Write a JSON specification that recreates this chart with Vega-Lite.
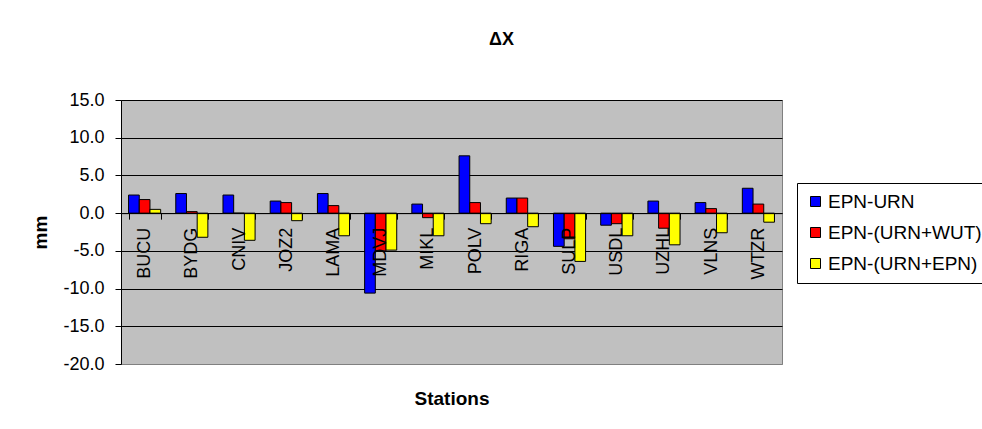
{
  "$schema": "https://vega.github.io/schema/vega-lite/v6.json",
  "width": 661,
  "height": 264,
  "autosize": {"type": "none"},
  "padding": {"left": 121, "top": 100, "right": 200, "bottom": 65},
  "background": "white",
  "title": {
    "text": "ΔX",
    "font": "Liberation Sans",
    "fontSize": 18,
    "fontWeight": "bold",
    "color": "black",
    "anchor": "middle",
    "baseline": "alphabetic",
    "offset": 28,
    "dx": 50
  },
  "data": {
    "values": [
      {"station": "BUCU", "series": "EPN-URN", "value": 2.4},
      {"station": "BUCU", "series": "EPN-(URN+WUT)", "value": 1.8},
      {"station": "BUCU", "series": "EPN-(URN+EPN)", "value": 0.5},
      {"station": "BYDG", "series": "EPN-URN", "value": 2.6},
      {"station": "BYDG", "series": "EPN-(URN+WUT)", "value": 0.2},
      {"station": "BYDG", "series": "EPN-(URN+EPN)", "value": -3.2},
      {"station": "CNIV", "series": "EPN-URN", "value": 2.4},
      {"station": "CNIV", "series": "EPN-(URN+WUT)", "value": 0.0},
      {"station": "CNIV", "series": "EPN-(URN+EPN)", "value": -3.6},
      {"station": "JOZ2", "series": "EPN-URN", "value": 1.6},
      {"station": "JOZ2", "series": "EPN-(URN+WUT)", "value": 1.4},
      {"station": "JOZ2", "series": "EPN-(URN+EPN)", "value": -1.0},
      {"station": "LAMA", "series": "EPN-URN", "value": 2.6},
      {"station": "LAMA", "series": "EPN-(URN+WUT)", "value": 1.0},
      {"station": "LAMA", "series": "EPN-(URN+EPN)", "value": -3.0},
      {"station": "MDVJ", "series": "EPN-URN", "value": -10.6},
      {"station": "MDVJ", "series": "EPN-(URN+WUT)", "value": -5.0},
      {"station": "MDVJ", "series": "EPN-(URN+EPN)", "value": -4.9},
      {"station": "MIKL", "series": "EPN-URN", "value": 1.2},
      {"station": "MIKL", "series": "EPN-(URN+WUT)", "value": -0.6},
      {"station": "MIKL", "series": "EPN-(URN+EPN)", "value": -3.0},
      {"station": "POLV", "series": "EPN-URN", "value": 7.6},
      {"station": "POLV", "series": "EPN-(URN+WUT)", "value": 1.4},
      {"station": "POLV", "series": "EPN-(URN+EPN)", "value": -1.4},
      {"station": "RIGA", "series": "EPN-URN", "value": 2.0},
      {"station": "RIGA", "series": "EPN-(URN+WUT)", "value": 2.0},
      {"station": "RIGA", "series": "EPN-(URN+EPN)", "value": -1.8},
      {"station": "SULP", "series": "EPN-URN", "value": -4.4},
      {"station": "SULP", "series": "EPN-(URN+WUT)", "value": -3.4},
      {"station": "SULP", "series": "EPN-(URN+EPN)", "value": -6.4},
      {"station": "USDL", "series": "EPN-URN", "value": -1.6},
      {"station": "USDL", "series": "EPN-(URN+WUT)", "value": -1.4},
      {"station": "USDL", "series": "EPN-(URN+EPN)", "value": -3.0},
      {"station": "UZHL", "series": "EPN-URN", "value": 1.6},
      {"station": "UZHL", "series": "EPN-(URN+WUT)", "value": -2.0},
      {"station": "UZHL", "series": "EPN-(URN+EPN)", "value": -4.2},
      {"station": "VLNS", "series": "EPN-URN", "value": 1.4},
      {"station": "VLNS", "series": "EPN-(URN+WUT)", "value": 0.6},
      {"station": "VLNS", "series": "EPN-(URN+EPN)", "value": -2.6},
      {"station": "WTZR", "series": "EPN-URN", "value": 3.3},
      {"station": "WTZR", "series": "EPN-(URN+WUT)", "value": 1.2},
      {"station": "WTZR", "series": "EPN-(URN+EPN)", "value": -1.2}
    ]
  },
  "mark": {"type": "bar", "stroke": "black", "strokeWidth": 1},
  "encoding": {
    "x": {
      "field": "station",
      "type": "nominal",
      "sort": null,
      "scale": {"paddingInner": 0.32, "paddingOuter": 0.16},
      "axis": {
        "title": "Stations",
        "titleFont": "Liberation Sans",
        "titleFontSize": 19,
        "titleFontWeight": "bold",
        "titleColor": "black",
        "titleBaseline": "middle",
        "titleY": 185,
        "offset": -150.86,
        "zindex": 1,
        "domainColor": "black",
        "domainWidth": 1,
        "tickColor": "black",
        "tickSize": 6,
        "tickBand": "extent",
        "labelAngle": -90,
        "labelAlign": "right",
        "labelBaseline": "middle",
        "labelPadding": 8,
        "labelFont": "Liberation Sans",
        "labelFontSize": 18,
        "labelColor": "black",
        "grid": false
      }
    },
    "xOffset": {
      "field": "series",
      "type": "nominal",
      "sort": ["EPN-URN", "EPN-(URN+WUT)", "EPN-(URN+EPN)"],
      "scale": {"paddingInner": 0, "paddingOuter": 0}
    },
    "y": {
      "field": "value",
      "type": "quantitative",
      "scale": {"domain": [-20, 15], "nice": false, "zero": false},
      "axis": {
        "title": "mm",
        "titleFont": "Liberation Sans",
        "titleFontSize": 19,
        "titleFontWeight": "bold",
        "titleColor": "black",
        "titleBaseline": "middle",
        "titleX": -81,
        "values": [-20, -15, -10, -5, 0, 5, 10, 15],
        "format": ".1f",
        "labelExpr": "replace(datum.label, '−', '-')",
        "domainColor": "black",
        "tickColor": "black",
        "tickSize": 6,
        "labelPadding": 11,
        "labelFont": "Liberation Sans",
        "labelFontSize": 18,
        "labelColor": "black",
        "grid": true,
        "gridColor": {"condition": {"test": "datum.value == -20", "value": "#808080"}, "value": "black"},
        "gridOpacity": 1,
        "gridWidth": 1
      }
    },
    "color": {
      "field": "series",
      "type": "nominal",
      "sort": ["EPN-URN", "EPN-(URN+WUT)", "EPN-(URN+EPN)"],
      "scale": {
        "domain": ["EPN-URN", "EPN-(URN+WUT)", "EPN-(URN+EPN)"],
        "range": ["#0000FF", "#FF0000", "#FFFF00"]
      },
      "legend": {
        "title": null,
        "orient": "none",
        "legendX": 676,
        "legendY": 83,
        "padding": 9,
        "strokeColor": "black",
        "fillColor": "white",
        "symbolType": "square",
        "symbolSize": 100,
        "symbolStrokeColor": "black",
        "symbolStrokeWidth": 1,
        "symbolOpacity": 1,
        "labelFont": "Liberation Sans",
        "labelFontSize": 19,
        "labelColor": "black",
        "labelOffset": 3,
        "rowPadding": 11,
        "labelLimit": 300
      }
    }
  },
  "config": {
    "view": {"fill": "#C0C0C0", "stroke": "#808080", "strokeWidth": 1}
  }
}
